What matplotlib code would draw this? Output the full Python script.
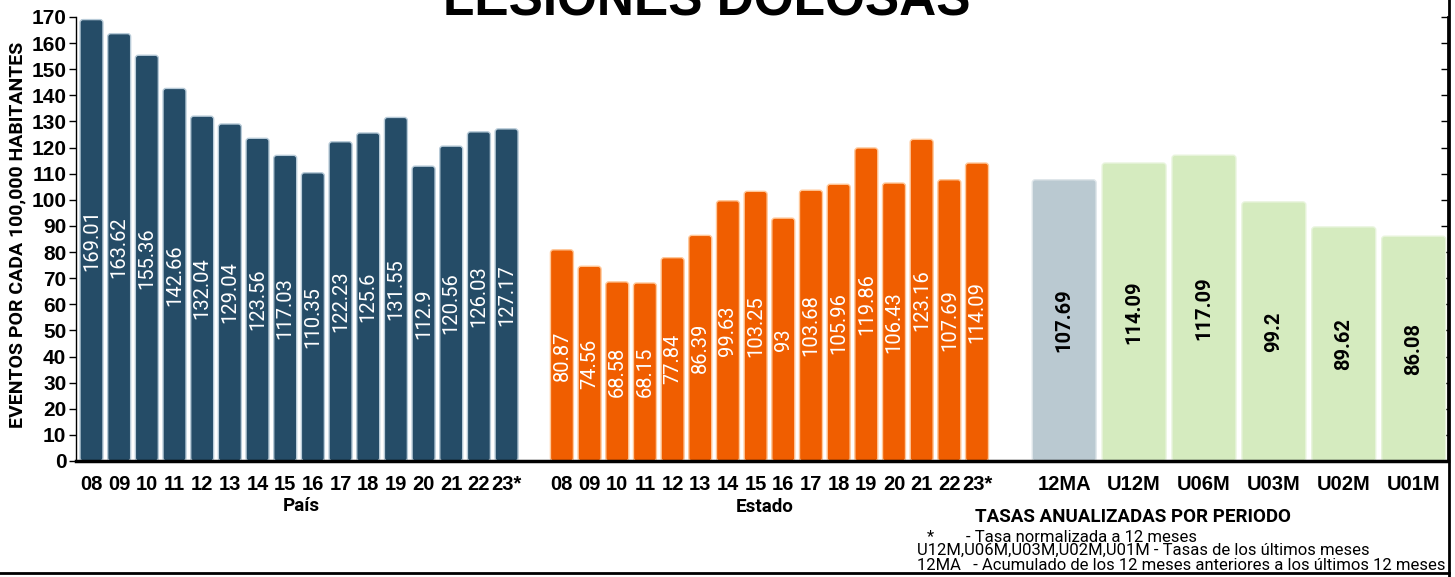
import numpy as np
import matplotlib
matplotlib.use('Agg')
import matplotlib.pyplot as plt
from matplotlib.patches import FancyBboxPatch
from matplotlib.lines import Line2D

# data
years = ['08', '09', '10', '11', '12', '13', '14', '15', '16', '17', '18', '19', '20', '21', '22', '23*']
pais = [169.01, 163.62, 155.36, 142.66, 132.04, 129.04, 123.56, 117.03, 110.35,
        122.23, 125.6, 131.55, 112.9, 120.56, 126.03, 127.17]
estado = [80.87, 74.56, 68.58, 68.15, 77.84, 86.39, 99.63, 103.25, 93,
          103.68, 105.96, 119.86, 106.43, 123.16, 107.69, 114.09]
periodos = ['12MA', 'U12M', 'U06M', 'U03M', 'U02M', 'U01M']
tasas = [107.69, 114.09, 117.09, 99.2, 89.62, 86.08]

c_pais = '#254c67'
c_estado = '#f05e00'
c_12ma = '#bac9d1'
c_per = '#d5ebbf'

plt.rcParams['font.family'] = ['Liberation Sans', 'DejaVu Sans']
roboto = ['Roboto', 'DejaVu Sans']

W, H = 1455, 577
fig = plt.figure(figsize=(W / 100, H / 100), dpi=100)
ax = fig.add_axes([76 / W, (H - 461) / H, (1448 - 76) / W, (461 - 17) / H])

x_pais = np.arange(len(pais))
x_estado = np.arange(len(estado)) + len(pais) + 1
x_per = 35.15 + np.arange(len(tasas)) * 2.526

def rounded_bars(xs, vals, width, color, edge):
    bars = ax.bar(xs, vals, width=width, color='none', edgecolor='none')
    for b in bars:
        p = FancyBboxPatch((b.get_x(), b.get_y()), b.get_width(), b.get_height(),
                           boxstyle='round,pad=0,rounding_size=0.11',
                           mutation_aspect=10.6, facecolor=color,
                           edgecolor=edge, linewidth=1.0, zorder=2)
        ax.add_patch(p)
    return bars

rounded_bars(x_pais, pais, 0.83, c_pais, '#b8cbd8')
rounded_bars(x_estado, estado, 0.83, c_estado, '#ffc89a')
rounded_bars(x_per[:1], tasas[:1], 2.31, c_12ma, '#dfe6ea')
rounded_bars(x_per[1:], tasas[1:], 2.31, c_per, '#e8f4dc')

for x, v in zip(x_pais, pais):
    ax.text(x, v / 2, f'{v:g}', rotation=90, ha='center', va='center',
            color='white', fontsize=14.5, family=roboto, zorder=3)
for x, v in zip(x_estado, estado):
    ax.text(x, v / 2, f'{v:g}', rotation=90, ha='center', va='center',
            color='white', fontsize=14.5, family=roboto, zorder=3)
for x, v in zip(x_per, tasas):
    ax.text(x, v / 2, f'{v:g}', rotation=90, ha='center', va='center',
            color='black', fontsize=14.5, family=roboto, fontweight='bold', zorder=3)

ax.set_xlim(-0.56, 49.02)
ax.set_ylim(0, 170)
ax.set_yticks(np.arange(0, 171, 10))
ax.set_xticks(np.concatenate([x_pais, x_estado, x_per]))
ax.set_xticklabels(years + years + periodos, fontsize=14.5, fontweight='bold')
ax.tick_params(axis='x', length=0, pad=10)
ax.tick_params(axis='y', labelsize=15, length=5, width=1, pad=2)
for t in ax.get_yticklabels():
    t.set_fontweight('bold')
ax.tick_params(axis='y', which='both', right=True, direction='out')
ax.spines['top'].set_visible(False)
ax.spines['bottom'].set_linewidth(2.5)
ax.spines['left'].set_linewidth(1)
ax.spines['right'].set_linewidth(2)

# right ticks point inward
for tl in ax.yaxis.get_major_ticks():
    tl.tick2line.set_marker(0)
    tl.tick2line.set_markersize(5)

fig.text(707 / W, 1 - 16 / H, 'LESIONES DOLOSAS', ha='center', va='baseline',
         fontsize=37, fontweight='bold')
fig.text(17 / W, 1 - 235 / H, 'EVENTOS POR CADA 100,000 HABITANTES', rotation=90,
         ha='center', va='center', fontsize=14, fontweight='bold', family=roboto)
fig.text(301 / W, 1 - 506 / H, 'País', ha='center', va='center', fontsize=13.5,
         fontweight='bold', family=roboto)
fig.text(765 / W, 1 - 507 / H, 'Estado', ha='center', va='center', fontsize=13.5,
         fontweight='bold', family=roboto)
fig.text(1133 / W, 1 - 517 / H, 'TASAS ANUALIZADAS POR PERIODO', ha='center', va='center',
         fontsize=13.5, fontweight='bold', family=roboto)

fig.text(930 / W, 1 - 537 / H, '*', ha='center', va='center', fontsize=12, family=roboto)
fig.text(966 / W, 1 - 537 / H, '- Tasa normalizada a 12 meses', ha='left', va='center',
         fontsize=12, family=roboto)
fig.text(917 / W, 1 - 550 / H, 'U12M,U06M,U03M,U02M,U01M - Tasas de los últimos meses',
         ha='left', va='center', fontsize=12, family=roboto)
fig.text(917 / W, 1 - 565 / H, '12MA   - Acumulado de los 12 meses anteriores a los últimos 12 meses',
         ha='left', va='center', fontsize=12, family=roboto)

# border lines of the image
fig.add_artist(Line2D([0, 1449 / W], [1 - 573 / H, 1 - 573 / H], color='black', linewidth=2,
                      transform=fig.transFigure))
fig.add_artist(Line2D([1449 / W, 1449 / W], [0, 1], color='black', linewidth=2,
                      transform=fig.transFigure))

fig.savefig('out.png', dpi=100)
